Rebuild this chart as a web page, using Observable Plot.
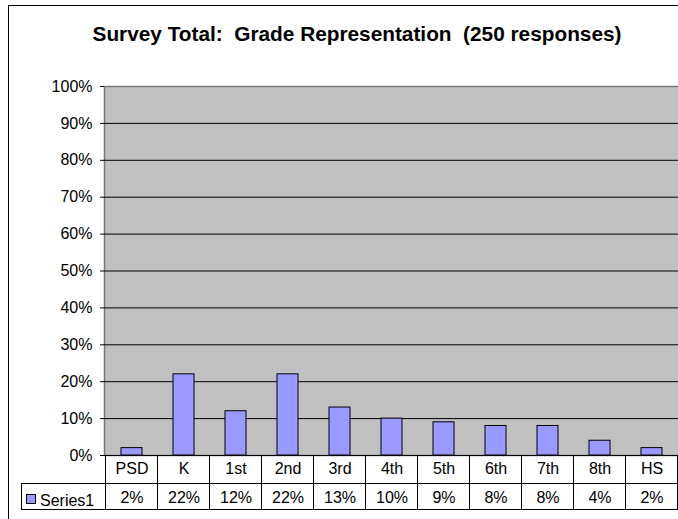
<!DOCTYPE html>
<html><head><meta charset="utf-8">
<script src="https://cdn.jsdelivr.net/npm/d3@7"></script>
<script src="https://cdn.jsdelivr.net/npm/@observablehq/plot@0.6"></script>
<style>
body{margin:0;background:#fff;}
#chart{width:678px;height:519px;overflow:hidden;}
#chart svg{max-width:none !important;}
</style></head>
<body><div id="chart"></div>
<script>
const titleText = "Survey Total:  Grade Representation  (250 responses)";
const grades = ["PSD","K","1st","2nd","3rd","4th","5th","6th","7th","8th","HS"];
const shares = [0.02,0.22,0.12,0.22,0.13,0.10,0.09,0.08,0.08,0.04,0.02];
const seriesName = "Series1";
const yTicks = [0,0.1,0.2,0.3,0.4,0.5,0.6,0.7,0.8,0.9,1.0];

const data = grades.map((g,i)=>({grade:g, share:shares[i]}));
const pct = d3.format(".0%");
const font = "'Liberation Sans', Arial, sans-serif";

const W = 680, H = 519, mL = 104, mR = 1, mT = 86, mB = 64;
const rowTop = H - mB, rowMid = rowTop + 28, rowBot = rowTop + 54;

const plot = Plot.plot({
  width: W, height: H,
  marginLeft: mL, marginRight: mR, marginTop: mT, marginBottom: mB,
  style: {fontFamily: font, fontSize: "16px", background: "white", color: "#000", maxWidth: "none"},
  x: {domain: grades, paddingInner: 0.6, paddingOuter: 0.3, axis: null},
  y: {domain: [0, 1], axis: null},
  marks: [
    Plot.frame({fill: "#C0C0C0", stroke: "#777", strokeWidth: 1.5}),
    Plot.gridY(yTicks.filter(t => t < 1), {stroke: "#000", strokeOpacity: 1}),
    Plot.axisY({ticks: yTicks, tickFormat: pct, tickSize: 4, tickPadding: 8, fontSize: 16, stroke: "#000", label: null}),
    Plot.barY(data, {x: "grade", y: "share", fill: "#9999FF", stroke: "#000", strokeWidth: 1}),
    Plot.text(data, {x: "grade", text: "grade", frameAnchor: "bottom", dy: 18, fontSize: 16, fill: "#000"}),
    Plot.text(data, {x: "grade", text: d => pct(d.share), frameAnchor: "bottom", dy: 47, fontSize: 16, fill: "#000"})
  ]
});

const svg = d3.select(plot);
const xs = plot.scale("x");
const step = xs.step, bw = xs.bandwidth;
const right = xs.range[1];
const g = svg.append("g").attr("stroke", "#000").attr("stroke-width", 1).attr("fill", "none");

// table grid lines
const bounds = [];
grades.forEach((d, i) => {
  const c = xs.apply(d) + bw / 2;
  if (i === 0) bounds.push(c - step / 2);
  bounds.push(c + step / 2);
});
bounds.forEach(b => {
  g.append("line").attr("x1", b).attr("x2", b).attr("y1", rowTop).attr("y2", rowBot);
});
g.append("line").attr("x1", 21).attr("x2", right).attr("y1", rowMid + 0.5).attr("y2", rowMid + 0.5);
g.append("line").attr("x1", 21).attr("x2", right).attr("y1", rowBot + 0.5).attr("y2", rowBot + 0.5);
g.append("line").attr("x1", 21.5).attr("x2", 21.5).attr("y1", rowMid).attr("y2", rowBot);

// legend key in the table
svg.append("rect").attr("x", 26.5).attr("y", 494.5).attr("width", 9).attr("height", 9)
  .attr("fill", "#9999FF").attr("stroke", "#000");
svg.append("text").attr("x", 40).attr("y", rowMid + 17).attr("dy", "0.35em")
  .attr("text-anchor", "start").attr("font-size", 16).attr("fill", "#000").text(seriesName);

// outer chart border
svg.append("rect").attr("x", 8.5).attr("y", 5.5).attr("width", 800).attr("height", 800)
  .attr("fill", "none").attr("stroke", "#000");

// title
svg.append("text").attr("x", 357).attr("y", 34).attr("dy", "0.35em")
  .attr("text-anchor", "middle").attr("font-weight", "bold").attr("font-size", 20.8)
  .style("white-space", "pre").attr("fill", "#000").text(titleText);

document.getElementById("chart").appendChild(plot);
</script>
</body></html>
